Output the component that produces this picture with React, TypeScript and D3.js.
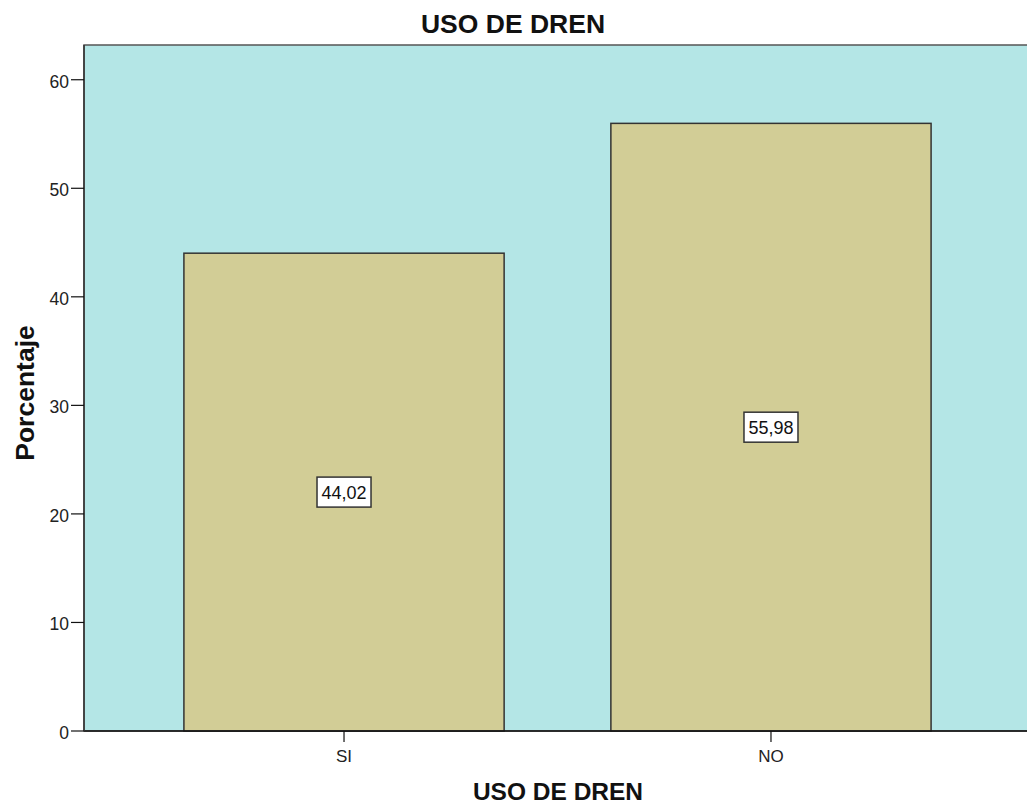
import React from "react";
import * as d3 from "d3";

const categories = ["SI", "NO"];
const values = [44.02, 55.98];
const labels = ["44,02", "55,98"];
const yTicks = [0, 10, 20, 30, 40, 50, 60];
const title = "USO DE DREN";
const xTitle = "USO DE DREN";
const yTitle = "Porcentaje";

export default function App() {
  const W = 1027, H = 805;
  const left = 84, top = 45, bottom = 731;
  const y = d3.scaleLinear().domain([0, 63.2]).range([bottom, top]);
  const x = d3.scaleBand<string>().domain(categories).range([left, 1031]).paddingInner(0.25).paddingOuter(0.234);
  const font = "'Liberation Sans', Arial, sans-serif";
  return (
    <svg width={W} height={H} style={{ position: "absolute", left: 0, top: 0, fontFamily: font }}>
      <rect x={0} y={0} width={W} height={H} fill="#fff" />
      <text x={513} y={33} textAnchor="middle" fontSize={26.5} fontWeight="bold" fill="#111">{title}</text>
      <rect x={left} y={top} width={W - left + 5} height={bottom - top} fill="#b4e6e6" stroke="#555" strokeWidth={1.5} />
      {categories.map((c, i) => (
        <rect key={c} x={x(c)!} y={y(values[i])} width={x.bandwidth()} height={bottom - y(values[i])}
          fill="#d2cd96" stroke="#333" strokeWidth={1.5} />
      ))}
      {categories.map((c, i) => {
        const cx = x(c)! + x.bandwidth() / 2;
        const cy = y(values[i] / 2);
        return (
          <g key={c + "l"}>
            <rect x={cx - 27} y={cy - 15} width={54} height={30} fill="#fff" stroke="#333" strokeWidth={1.5} />
            <text x={cx} y={cy + 7} textAnchor="middle" fontSize={18} fill="#111">{labels[i]}</text>
          </g>
        );
      })}
      <line x1={left} x2={W} y1={bottom} y2={bottom} stroke="#111" strokeWidth={1.5} />
      <line x1={left} x2={left} y1={top} y2={bottom} stroke="#333" strokeWidth={1.5} />
      {yTicks.map(t => (
        <g key={t}>
          <line x1={71} x2={left} y1={y(t)} y2={y(t)} stroke="#111" strokeWidth={1.2} />
          <text x={69} y={y(t) + 8} textAnchor="end" fontSize={17.5} fill="#222">{t}</text>
        </g>
      ))}
      {categories.map(c => {
        const cx = x(c)! + x.bandwidth() / 2;
        return (
          <g key={c + "t"}>
            <line x1={cx} x2={cx} y1={bottom} y2={bottom + 11} stroke="#111" strokeWidth={1.2} />
            <text x={cx} y={762} textAnchor="middle" fontSize={17} fill="#222">{c}</text>
          </g>
        );
      })}
      <text x={558} y={800} textAnchor="middle" fontSize={24.5} fontWeight="bold" fill="#111">{xTitle}</text>
      <text transform={`translate(34,393) rotate(-90)`} textAnchor="middle" fontSize={26.5} fontWeight="bold" fill="#111">{yTitle}</text>
    </svg>
  );
}
